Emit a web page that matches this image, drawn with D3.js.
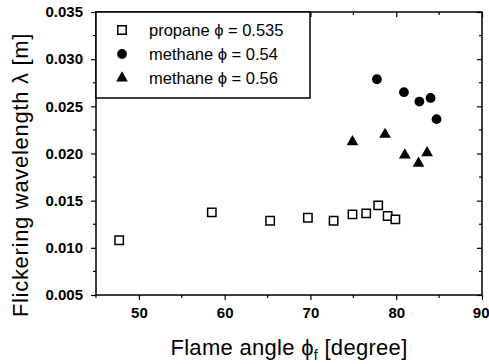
<!DOCTYPE html>
<html><head><meta charset="utf-8">
<script src="https://cdn.jsdelivr.net/npm/d3@7"></script>
<style>body{margin:0;background:#fff}svg{display:block}text{font-family:"Liberation Sans",Arial,sans-serif;fill:#000}</style>
</head><body><svg id="c" width="489" height="364"></svg>
<script>
const propaneX = [47.7, 58.5, 65.3, 69.7, 72.7, 74.9, 76.5, 77.9, 79.0, 79.9];
const propaneY = [0.0108, 0.01376, 0.01287, 0.01319, 0.01287, 0.01354, 0.01365, 0.0145, 0.01337, 0.01302];
const methane54X = [77.75, 80.9, 82.7, 84.0, 84.7];
const methane54Y = [0.02787, 0.0265, 0.02551, 0.02589, 0.02364];
const methane56X = [74.9, 78.7, 81.0, 82.6, 83.6];
const methane56Y = [0.02123, 0.02202, 0.01983, 0.01895, 0.02007];
const xTicks = [50, 60, 70, 80, 90];
const yTicks = [0.005, 0.010, 0.015, 0.020, 0.025, 0.030, 0.035];
const legendLabels = ["propane \u03d5 = 0.535", "methane \u03d5 = 0.54", "methane \u03d5 = 0.56"];

const svg = d3.select("#c");
const L = 96, R = 482, T = 12, B = 295;
const x = d3.scaleLinear().domain([45, 90]).range([L, R]);
const y = d3.scaleLinear().domain([0.005, 0.035]).range([B, T]);

const xMinor = d3.range(45, 90.1, 5).filter(v => !xTicks.includes(v));
const yMinor = d3.range(0.0075, 0.035, 0.005);
const FF = '"Liberation Sans",Arial,sans-serif';

const g = svg.append("g");
g.append("rect").attr("x", L).attr("y", T).attr("width", R - L).attr("height", B - T)
  .attr("fill", "none").attr("stroke", "#000").attr("stroke-width", 1.5);

const bx = g.append("g").attr("transform", `translate(0,${B})`)
  .call(d3.axisBottom(x).tickValues(xTicks).tickSize(5).tickPadding(7).tickFormat(d3.format("d")));
bx.append("g").selectAll("line").data(xMinor).join("line")
  .attr("x1", d => x(d)).attr("x2", d => x(d)).attr("y1", 0).attr("y2", 3);
const ly = g.append("g").attr("transform", `translate(${L},0)`)
  .call(d3.axisLeft(y).tickValues(yTicks).tickSize(5).tickPadding(8).tickFormat(d3.format(".3f")));
ly.append("g").selectAll("line").data(yMinor).join("line")
  .attr("y1", d => y(d)).attr("y2", d => y(d)).attr("x1", 0).attr("x2", -3);
const tx = g.append("g").attr("transform", `translate(0,${T})`)
  .call(d3.axisBottom(x).tickValues(xTicks).tickSize(5).tickFormat(""));
tx.append("g").selectAll("line").data(xMinor).join("line")
  .attr("x1", d => x(d)).attr("x2", d => x(d)).attr("y1", 0).attr("y2", 3);
const ry = g.append("g").attr("transform", `translate(${R},0)`)
  .call(d3.axisLeft(y).tickValues(yTicks).tickSize(5).tickFormat(""));
ry.append("g").selectAll("line").data(yMinor).join("line")
  .attr("y1", d => y(d)).attr("y2", d => y(d)).attr("x1", 0).attr("x2", -3);

[bx, ly, tx, ry].forEach(a => {
  a.select(".domain").remove();
  a.selectAll("line").attr("stroke", "#000").attr("stroke-width", 1.2);
});
bx.selectAll("text").attr("font-size", 15).attr("font-weight", "bold").style("font-family", FF);
ly.selectAll("text").attr("font-size", 15).attr("font-weight", "bold").style("font-family", FF);
// the last x label sits at the right edge; keep it fully inside the window
bx.selectAll(".tick text").filter(d => d === 90).attr("text-anchor", "end").attr("x", 489 - R);

g.append("rect").attr("x", L).attr("y", T).attr("width", 310 - L).attr("height", 98 - T)
  .attr("fill", "#fff").attr("stroke", "#000").attr("stroke-width", 1.5);

const sq = d3.symbol().type(d3.symbolSquare).size(70);
const ci = d3.symbol().type(d3.symbolCircle).size(75);
const tr = d3.symbol().type(d3.symbolTriangle).size(60);

const pts = svg.append("g");
pts.selectAll(".p").data(propaneX.map((v, i) => [v, propaneY[i]])).join("path")
  .attr("transform", d => `translate(${x(d[0])},${y(d[1])})`).attr("d", sq)
  .attr("fill", "#fff").attr("stroke", "#000").attr("stroke-width", 1.5);
pts.selectAll(".m54").data(methane54X.map((v, i) => [v, methane54Y[i]])).join("path")
  .attr("transform", d => `translate(${x(d[0])},${y(d[1])})`).attr("d", ci).attr("fill", "#000");
pts.selectAll(".m56").data(methane56X.map((v, i) => [v, methane56Y[i]])).join("path")
  .attr("transform", d => `translate(${x(d[0])},${y(d[1])})`).attr("d", tr).attr("fill", "#000");

const legY = [30, 54, 78];
const syms = [sq, ci, tr];
legendLabels.forEach((t, i) => {
  const p = svg.append("path").attr("transform", `translate(122,${legY[i]})`).attr("d", syms[i]);
  if (i === 0) p.attr("fill", "#fff").attr("stroke", "#000").attr("stroke-width", 1.5);
  else p.attr("fill", "#000");
  svg.append("text").attr("x", 149).attr("y", legY[i]).attr("dy", "0.35em")
    .attr("font-size", 16.5).text(t);
});

const xt = svg.append("text").attr("x", 289).attr("y", 355).attr("text-anchor", "middle")
  .attr("font-size", 22).attr("letter-spacing", 0.3);
xt.append("tspan").text("Flame angle \u03d5");
xt.append("tspan").attr("font-size", 14).attr("dy", 5).text("f");
xt.append("tspan").attr("dy", -5).text(" [degree]");

svg.append("text").attr("transform", "translate(27.5,175) rotate(-90)").attr("text-anchor", "middle")
  .attr("font-size", 22).attr("letter-spacing", 0.7).text("Flickering wavelength \u03bb [m]");
</script></body></html>
